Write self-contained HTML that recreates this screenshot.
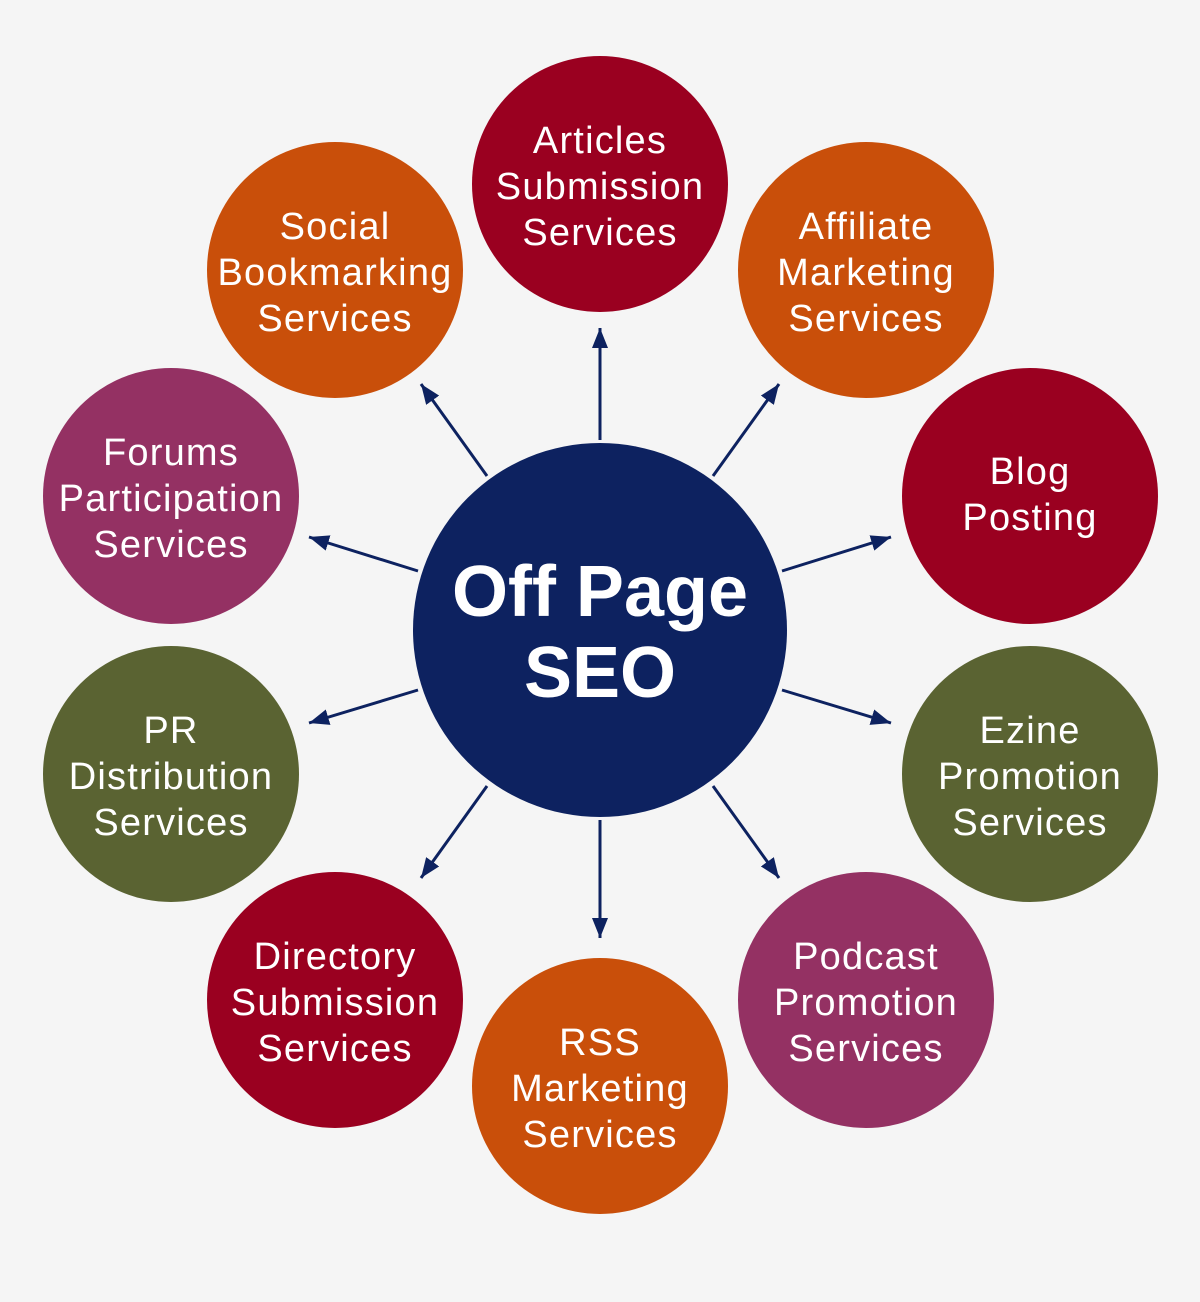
<!DOCTYPE html>
<html><head><meta charset="utf-8"><style>
html,body{margin:0;padding:0;background:#f5f5f5;}
svg{display:block}
text{font-family:"Liberation Sans",Arial,sans-serif;fill:#fff;text-anchor:middle}
</style></head><body>
<svg width="1200" height="1302" viewBox="0 0 1200 1302">
<defs>
<marker id="b" viewBox="0 0 20 16" markerWidth="20" markerHeight="16" refX="20" refY="8" orient="auto" markerUnits="userSpaceOnUse"><path d="M0,0 L20,8 L0,16 z" fill="#0d2260"/></marker></defs>
<rect width="1200" height="1302" fill="#f5f5f5"/>
<g stroke="#0d2260" stroke-width="3" marker-end="url(#b)">
<line x1="600" y1="440" x2="600" y2="328"/>
<line x1="487" y1="476" x2="421" y2="384"/>
<line x1="713" y1="476" x2="779" y2="384"/>
<line x1="418" y1="571" x2="309" y2="537"/>
<line x1="782" y1="571" x2="891" y2="537"/>
<line x1="418" y1="690" x2="309" y2="723"/>
<line x1="782" y1="690" x2="891" y2="723"/>
<line x1="487" y1="786" x2="421" y2="878"/>
<line x1="713" y1="786" x2="779" y2="878"/>
<line x1="600" y1="820" x2="600" y2="938"/>
</g>
<circle cx="600" cy="630" r="187" fill="#0d2260"/>
<text x="600" y="616" font-size="72" font-weight="bold">Off Page</text>
<text x="600" y="697" font-size="72" font-weight="bold">SEO</text>
<g font-size="38" letter-spacing="1.2">
<circle cx="600" cy="184" r="128" fill="#9a0020"/>
<text x="600" y="153">Articles</text><text x="600" y="199">Submission</text><text x="600" y="245">Services</text>
<circle cx="335" cy="270" r="128" fill="#c94f0a"/>
<text x="335" y="239">Social</text><text x="335" y="285">Bookmarking</text><text x="335" y="331">Services</text>
<circle cx="866" cy="270" r="128" fill="#c94f0a"/>
<text x="866" y="239">Affiliate</text><text x="866" y="285">Marketing</text><text x="866" y="331">Services</text>
<circle cx="171" cy="496" r="128" fill="#943163"/>
<text x="171" y="465">Forums</text><text x="171" y="511">Participation</text><text x="171" y="557">Services</text>
<circle cx="1030" cy="496" r="128" fill="#9a0020"/>
<text x="1030" y="484">Blog</text><text x="1030" y="530">Posting</text>
<circle cx="171" cy="774" r="128" fill="#5a6332"/>
<text x="171" y="743">PR</text><text x="171" y="789">Distribution</text><text x="171" y="835">Services</text>
<circle cx="1030" cy="774" r="128" fill="#5a6332"/>
<text x="1030" y="743">Ezine</text><text x="1030" y="789">Promotion</text><text x="1030" y="835">Services</text>
<circle cx="335" cy="1000" r="128" fill="#9a0020"/>
<text x="335" y="969">Directory</text><text x="335" y="1015">Submission</text><text x="335" y="1061">Services</text>
<circle cx="866" cy="1000" r="128" fill="#943163"/>
<text x="866" y="969">Podcast</text><text x="866" y="1015">Promotion</text><text x="866" y="1061">Services</text>
<circle cx="600" cy="1086" r="128" fill="#c94f0a"/>
<text x="600" y="1055">RSS</text><text x="600" y="1101">Marketing</text><text x="600" y="1147">Services</text>
</g>
</svg>
</body></html>
